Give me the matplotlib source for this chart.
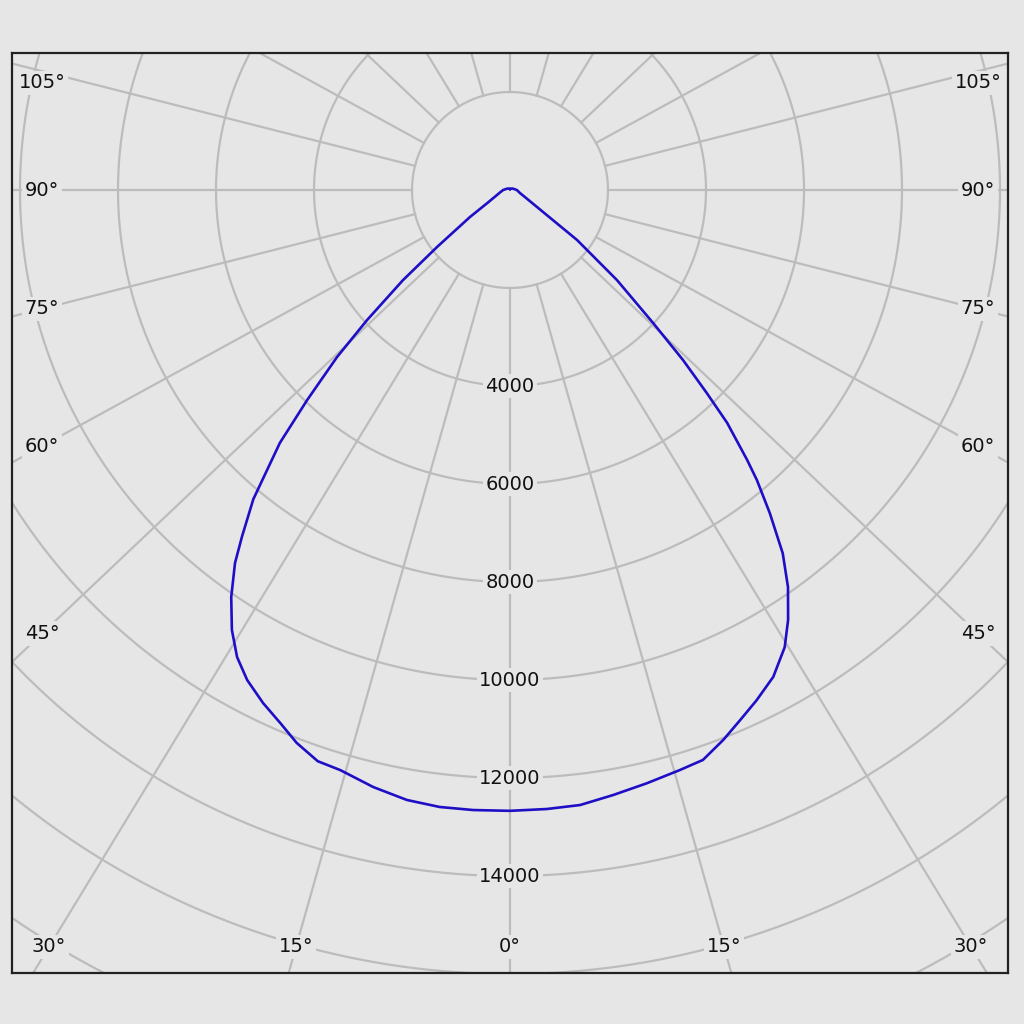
import numpy as np
import matplotlib.pyplot as plt

right_deg = [0, 3.4, 6.5, 9.7, 13.0, 16.3, 18.7, 21.2, 23.5, 25.8, 28.4, 31.0, 32.9,
             35.0, 36.9, 38.8, 40.4, 41.3, 43.0, 44.1, 45.5, 47.1, 49.9, 53.3, 57.8,
             65, 73, 90, 120, 150, 180]
right_cd = [12670, 12655, 12633, 12525, 12425, 12335, 12280, 12037, 11791, 11565, 11296,
            10885, 10449, 9891, 9270, 8462, 7775, 7332, 6498, 5773, 4950, 3986, 2853,
            1706, 651, 330, 213, 140, 60, 30, 20]
left_deg = [0, 3.4, 6.5, 9.6, 12.9, 16.3, 18.6, 21.1, 23.3, 25.7, 28.2, 30.3, 32.3,
            34.4, 36.4, 37.7, 39.7, 42.3, 44.0, 46.0, 47.7, 49.9, 52.0, 56.0, 60,
            69, 75, 90, 120, 150, 180]
left_cd = [12670, 12676, 12673, 12625, 12500, 12335, 12300, 12094, 11847, 11620, 11349,
           11040, 10622, 10070, 9457, 8947, 8200, 6978, 5960, 4907, 3944, 2853, 1890,
           985, 540, 284, 220, 140, 60, 30, 20]

ring_values = [2000, 4000, 6000, 8000, 10000, 12000, 14000, 16000, 18000, 20000, 22000, 24000]
ring_labels = [4000, 6000, 8000, 10000, 12000, 14000]
spoke_angles = list(range(0, 360, 15))
angle_labels = [0, 15, 30, 45, 60, 75, 90, 105]

bg = '#e6e6e6'
grid_col = '#bcbcbc'
curve_col = '#1e0fc6'
px = 1000 / 49          # cd per pixel
stretch = 1.055         # spokes in the source are slightly widened horizontally

fig = plt.figure(figsize=(10.24, 10.24), dpi=100, facecolor=bg)
ax = fig.add_axes([12/1024, 51/1024, 996/1024, 920/1024])
ax.set_facecolor(bg)
xmax = 498 * px
ymin, ymax = -783 * px, 137 * px
ax.set_xlim(-xmax, xmax)
ax.set_ylim(ymin, ymax)
ax.set_xticks([])
ax.set_yticks([])
for s in ax.spines.values():
    s.set_color('#222222')
    s.set_linewidth(1.6)

# rings
t = np.linspace(0, 2 * np.pi, 721)
for r in ring_values:
    ax.plot(r * np.cos(t), r * np.sin(t), color=grid_col, lw=1.6, zorder=1)

def direction(a):
    a = np.radians(a)
    ux, uy = stretch * np.sin(a), -np.cos(a)
    n = np.hypot(ux, uy)
    return ux / n, uy / n

# spokes
for a in spoke_angles:
    ux, uy = direction(a)
    ax.plot([2000 * ux, 40000 * ux], [2000 * uy, 40000 * uy], color=grid_col, lw=1.6, zorder=1)

# curve
th = np.radians(np.concatenate([-np.array(left_deg[::-1]), np.array(right_deg[1:])]))
rr = np.concatenate([np.array(left_cd[::-1]), np.array(right_cd[1:])])
ax.plot(rr * np.sin(th), -rr * np.cos(th), color=curve_col, lw=1.9, zorder=3,
        solid_joinstyle='round')

box = dict(facecolor=bg, edgecolor='none', pad=2)
fs = 14

# ring labels
for r in ring_labels:
    ax.text(0, -r, f'{r}', ha='center', va='center', fontsize=fs, color='#111111',
            bbox=box, zorder=4)

# angle labels, placed where each spoke meets an inset frame
x_side = xmax - 30 * px
y_bot = ymin + 26 * px
y_top = ymax - 30 * px
for a in angle_labels:
    for sgn in ([1] if a == 0 else [-1, 1]):
        ux, uy = direction(sgn * a)
        lx, ly = None, None
        if uy < 0:
            tb = y_bot / uy
            if abs(tb * ux) <= x_side:
                lx, ly = tb * ux, y_bot
        if lx is None:
            ts = x_side / abs(ux)
            lx, ly = np.sign(ux) * x_side, min(max(ts * uy, y_bot), y_top)
        ax.text(lx, ly, f'{a}°', ha='center', va='center', fontsize=fs, color='#111111',
                bbox=box, zorder=4)

fig.savefig('out.png', dpi=100, facecolor=bg)
